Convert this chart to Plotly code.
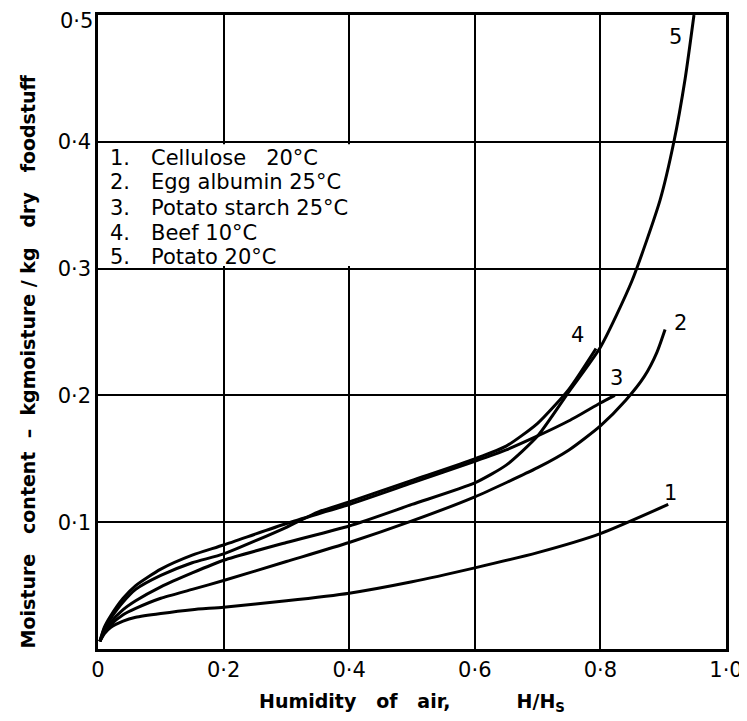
import plotly.graph_objects as go

# ---- data ----
x_tick_vals = [0, 0.2, 0.4, 0.6, 0.8, 1.0]
x_tick_text = ["0", "0·2", "0·4", "0·6", "0·8", "1·0"]
y_tick_vals = [0.1, 0.2, 0.3, 0.4]
y_tick_text = ["0·1", "0·2", "0·3", "0·4"]
y_top_val = 0.5
y_top_text = "0·5"

legend_numbers = ["1.", "2.", "3.", "4.", "5."]
legend_names = ["Cellulose\u00a0\u00a0\u00a020°C", "Egg\u00a0albumin\u00a025°C",
                "Potato\u00a0starch\u00a025°C", "Beef\u00a010°C", "Potato\u00a020°C"]
curve_labels = ["1", "2", "3", "4", "5"]

# 1. Cellulose 20°C
x1 = [0.003, 0.01, 0.02, 0.04, 0.06, 0.1, 0.15, 0.2, 0.3, 0.4, 0.5, 0.6, 0.7, 0.8, 0.908]
y1 = [0.006, 0.012, 0.017, 0.022, 0.025, 0.028, 0.031, 0.033, 0.038, 0.044, 0.053, 0.064, 0.076, 0.091, 0.114]
# 2. Egg albumin 25°C
x2 = [0.003, 0.01, 0.02, 0.04, 0.06, 0.1, 0.15, 0.2, 0.3, 0.4, 0.5, 0.6, 0.7, 0.75, 0.8, 0.84, 0.87, 0.89, 0.903]
y2 = [0.006, 0.013, 0.019, 0.027, 0.032, 0.040, 0.047, 0.054, 0.069, 0.084, 0.101, 0.120, 0.143, 0.157, 0.176, 0.196, 0.215, 0.234, 0.252]
# 3. Potato starch 25°C
x3 = [0.003, 0.01, 0.02, 0.04, 0.06, 0.1, 0.15, 0.2, 0.3, 0.4, 0.5, 0.6, 0.65, 0.7, 0.75, 0.8, 0.823]
y3 = [0.006, 0.017, 0.026, 0.040, 0.050, 0.063, 0.074, 0.082, 0.099, 0.114, 0.131, 0.148, 0.157, 0.168, 0.180, 0.194, 0.200]
# 4. Beef 10°C
x4 = [0.003, 0.01, 0.02, 0.04, 0.06, 0.1, 0.15, 0.2, 0.3, 0.35, 0.4, 0.5, 0.6, 0.65, 0.7, 0.75, 0.793]
y4 = [0.006, 0.016, 0.024, 0.037, 0.047, 0.058, 0.068, 0.075, 0.096, 0.108, 0.116, 0.133, 0.150, 0.160, 0.178, 0.205, 0.237]
# 5. Potato 20°C
x5 = [0.003, 0.01, 0.02, 0.04, 0.06, 0.1, 0.15, 0.2, 0.3, 0.4, 0.5, 0.6, 0.65, 0.7, 0.75, 0.8, 0.85, 0.895, 0.917, 0.935, 0.949]
y5 = [0.006, 0.014, 0.021, 0.031, 0.038, 0.049, 0.060, 0.070, 0.084, 0.097, 0.114, 0.131, 0.145, 0.168, 0.203, 0.238, 0.290, 0.354, 0.400, 0.450, 0.500]

# curve label anchor positions (data coords)
label_x = [0.911, 0.927, 0.826, 0.764, 0.919]
label_y = [0.123, 0.257, 0.214, 0.248, 0.483]

FONT = "DejaVu Sans"
FS = 21

fig = go.Figure()
for xs, ys in [(x1, y1), (x2, y2), (x3, y3), (x4, y4), (x5, y5)]:
    fig.add_trace(go.Scatter(x=xs, y=ys, mode="lines",
                             line=dict(color="black", width=3, shape="spline", smoothing=0.6),
                             showlegend=False, hoverinfo="skip"))

annotations = []
for t, lx, ly in zip(curve_labels, label_x, label_y):
    annotations.append(dict(x=lx, y=ly, xref="x", yref="y", text=t, showarrow=False,
                            font=dict(family=FONT, size=FS, color="black")))

leg_y = [0.387, 0.368, 0.348, 0.328, 0.309]
for num, name, ly in zip(legend_numbers, legend_names, leg_y):
    annotations.append(dict(x=0.016, y=ly, xref="x", yref="y", text=num, showarrow=False,
                            xanchor="left", yanchor="middle",
                            font=dict(family=FONT, size=FS, color="black")))
    annotations.append(dict(x=0.081, y=ly, xref="x", yref="y", text=name, showarrow=False,
                            xanchor="left", yanchor="middle",
                            font=dict(family=FONT, size=FS, color="black")))

# top y tick label (drawn as annotation so it is not dropped at the figure edge)
annotations.append(dict(x=0, y=y_top_val, xref="x", yref="y", text=y_top_text, showarrow=False,
                        xanchor="right", yanchor="middle", xshift=-3, yshift=-6,
                        font=dict(family=FONT, size=FS, color="black")))

annotations.append(dict(x=0.5, y=-0.085, xref="paper", yref="paper",
                        text="<b>Humidity\u00a0\u00a0\u00a0of\u00a0\u00a0\u00a0air,\u00a0\u00a0\u00a0\u00a0\u00a0\u00a0\u00a0\u00a0\u00a0\u00a0H/H<sub>S</sub></b>",
                        showarrow=False, xanchor="center", yanchor="middle",
                        font=dict(family=FONT, size=19, color="black")))
annotations.append(dict(x=-0.111, y=0.454, xref="paper", yref="paper",
                        text="<b>Moisture\u00a0\u00a0\u00a0content\u00a0\u00a0–\u00a0\u00a0kgmoisture\u00a0/\u00a0kg\u00a0\u00a0\u00a0dry\u00a0\u00a0\u00a0foodstuff</b>",
                        showarrow=False, textangle=-90, xanchor="center", yanchor="middle",
                        font=dict(family=FONT, size=19, color="black")))

# the page body has an 8px margin, so the figure is placed at (8, 8)
fig.update_layout(
    width=739, height=713,
    margin=dict(l=90, r=21, t=7, b=72, autoexpand=False),
    paper_bgcolor="white", plot_bgcolor="white",
    showlegend=False,
    annotations=annotations,
    shapes=[dict(type="rect", xref="x", yref="y", x0=0.004, x1=0.46, y0=0.302, y1=0.398,
                 fillcolor="white", line=dict(width=0), layer="between")],
    xaxis=dict(range=[0, 1], tickmode="array", tickvals=x_tick_vals, ticktext=x_tick_text,
               showgrid=True, gridcolor="black", gridwidth=1.5, zeroline=False,
               showline=True, linecolor="black", linewidth=2.5, mirror=True, ticks="",
               automargin=False,
               tickfont=dict(family=FONT, size=FS, color="black")),
    yaxis=dict(range=[0, 0.5], tickmode="array", tickvals=y_tick_vals, ticktext=y_tick_text,
               showgrid=True, gridcolor="black", gridwidth=1.5, zeroline=False,
               showline=True, linecolor="black", linewidth=2.5, mirror=True, ticks="",
               automargin=False,
               tickfont=dict(family=FONT, size=FS, color="black")),
)

fig.write_html("out.html")
